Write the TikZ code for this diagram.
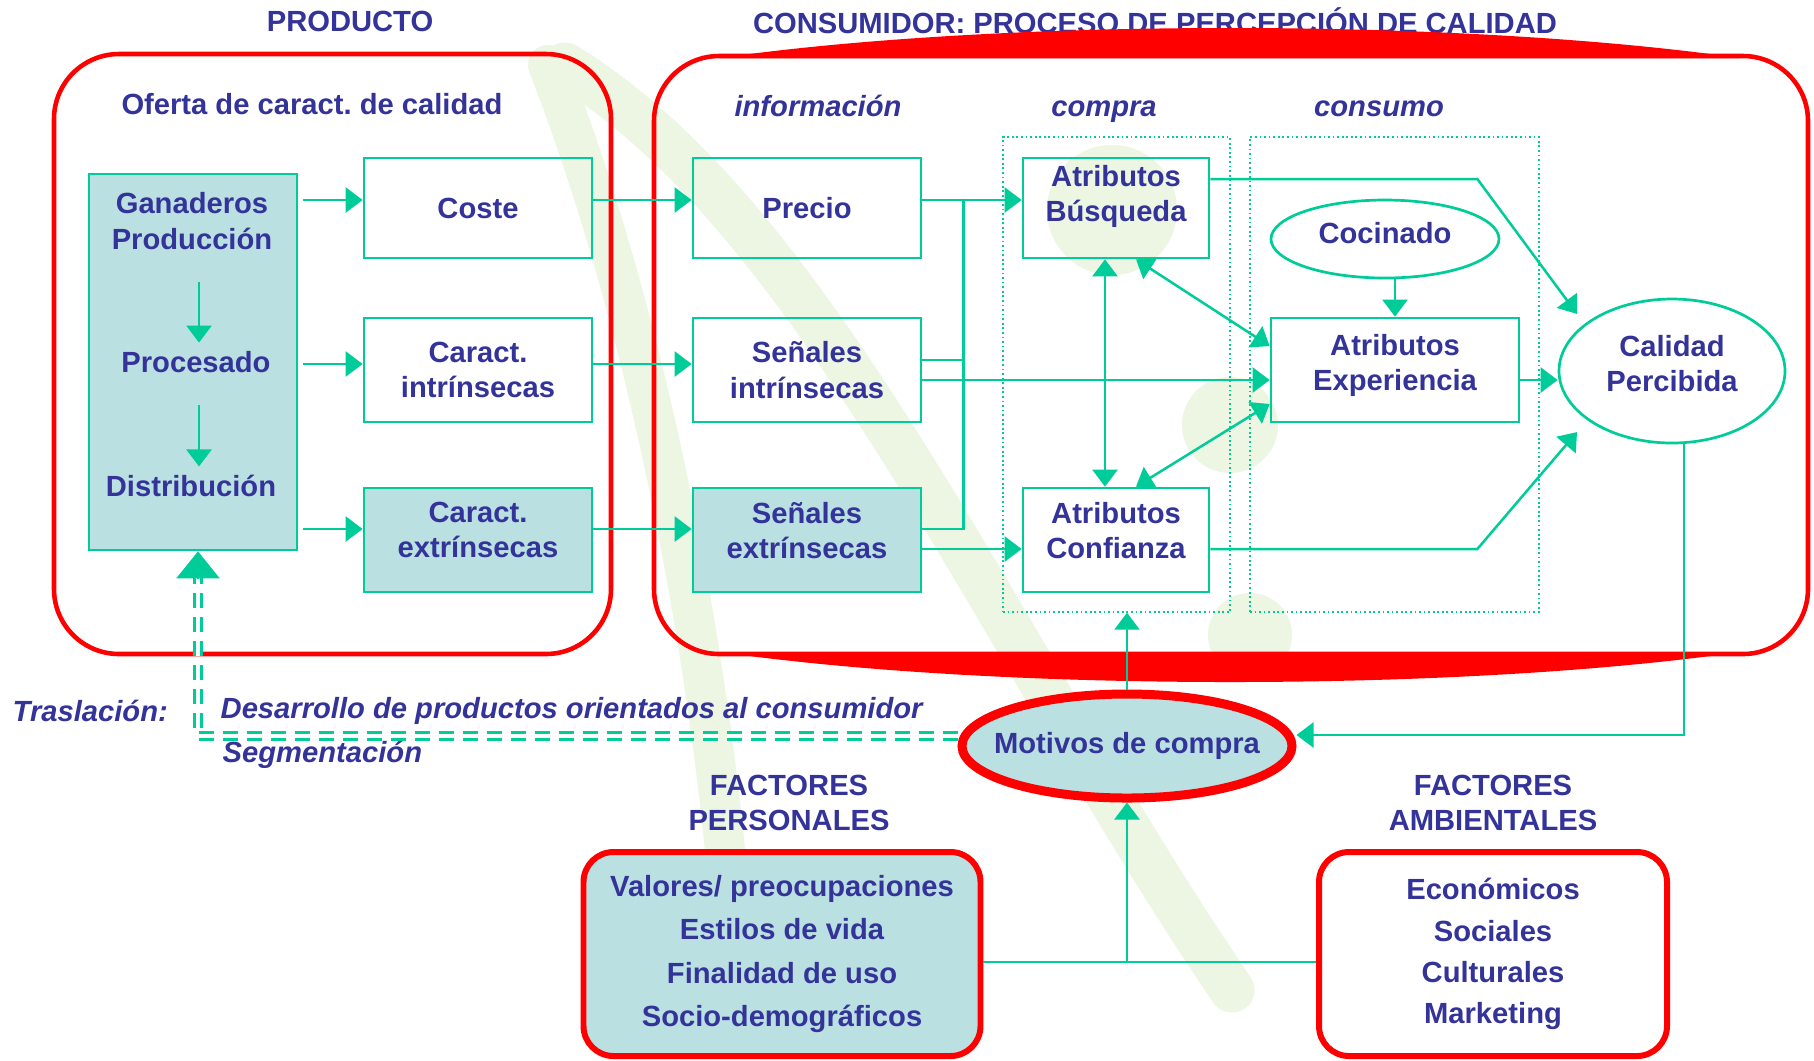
\documentclass[tikz,border=0pt]{standalone}
\usepackage{fontspec}
\setmainfont{Liberation Sans}
\usetikzlibrary{arrows.meta,calc,shapes.geometric}
\definecolor{ink}{RGB}{51,51,153}
\definecolor{grn}{RGB}{0,204,153}
\definecolor{pale}{RGB}{186,224,226}
\definecolor{wmark}{RGB}{236,246,226}
\begin{document}
\begin{tikzpicture}[x=0.1mm, y=-0.1mm,
    font=\fontsize{8.3}{10}\selectfont\bfseries\frenchspacing, text=ink,
    txt/.style={inner sep=0pt, align=center},
    head/.style={txt, font=\fontsize{8.3}{10}\selectfont\bfseries\itshape},
    lift/.style={text depth=#1},
    box/.style={draw=grn, line width=0.27mm, minimum width=22.8mm, minimum height=10.4mm, inner sep=0pt, align=center},
    tint/.style={fill=pale},
    ovalbox/.style={ellipse, draw=grn, line width=0.27mm, inner sep=0pt, align=center},
    stage/.style={draw=grn, line width=0.4pt, dash pattern=on 0.5pt off 0.8pt},
    redframe/.style={draw=red, line width=1.3pt, rounded corners=6.5mm},
    factor/.style={draw=red, line width=1.7pt, rounded corners=3mm, inner sep=0pt, align=center},
    ln/.style={draw=grn, line width=0.25mm},
    arr/.style={ln, -{Triangle[length=1.7mm, width=2.5mm]}},
    twoway/.style={ln, {Triangle[length=1.7mm, width=2.5mm]}-{Triangle[length=1.7mm, width=2.5mm]}},
    trans/.style={draw=grn, line width=0.3mm, double=white, double distance=0.4mm, dash pattern=on 1.5mm off 0.9mm}]
  \fill[white] (0,0) rectangle (1814,1060);
  \useasboundingbox (0,0) rectangle (1814,1060);
  % faint logo in the background
  \begin{scope}[color=wmark, line cap=round]
    \draw[line width=4mm] (548,65) .. controls (640,300) and (700,600) .. (725,850);
    \draw[line width=4.5mm] (565,65) .. controls (820,220) and (1000,650) .. (1232,990);
    \foreach \cx/\cy/\r in {1112/210/6.5, 1230/425/4.8, 1250/635/4.2}
      \fill (\cx,\cy) circle[radius=\r mm];
  \end{scope}
  \node[txt] (tprod) at (350,21) {PRODUCTO};
  \node[txt] (tcons) at (1155,21) {CONSUMIDOR: PROCESO DE PERCEPCIÓN DE CALIDAD};
  \node[redframe, minimum width=55.7mm, minimum height=60mm] (prod) at (332.5,354) {};
  \node[redframe, minimum width=115.4mm, minimum height=59.8mm] (cons) at (1231,355) {};
  \fill[red] (720,58) .. controls (1000,18) and (1460,18) .. (1740,58) -- cycle;
  \fill[red] (720,652) .. controls (1000,692) and (1460,692) .. (1740,652) -- cycle;
  % column headings
  \node[txt] (oferta) at (312,104) {Oferta de caract. de calidad};
  \node[head, anchor=base] (hinfo) at (818,116) {información};
  \node[head, anchor=base] (hcompra) at (1104,116) {compra};
  \node[head, anchor=base] (hconsumo) at (1379,116) {consumo};
  \node[stage, minimum width=22.7mm, minimum height=47.5mm] (scompra) at (1116.5,374.5) {};
  \node[stage, minimum width=28.9mm, minimum height=47.5mm] (sconsumo) at (1394.5,374.5) {};
  % producto
  \node[box, tint, minimum width=20.8mm, minimum height=37.6mm] (gan) at (193,362) {};
  \node[txt] (ganT) at (192,221) {Ganaderos\\Producción};
  \node[txt] (proc) at (196,362) {Procesado};
  \node[txt] (dist) at (191,486) {Distribución};
  \node[box, minimum height=10mm] (coste) at (478,208) {Coste};
  \node[box] (cint) at (478,370) {Caract.\\intrínsecas};
  \node[box, tint, lift=2mm] (cext) at (478,540) {Caract.\\extrínsecas};
  % consumidor
  \node[box, minimum height=10mm] (precio) at (807,208) {Precio};
  \node[box] (sint) at (807,370) {Señales\\intrínsecas};
  \node[box, tint, lift=2mm] (sext) at (807,540) {Señales\\extrínsecas};
  \node[box, minimum width=18.6mm, minimum height=10mm, lift=2.9mm] (busq) at (1116,208) {Atributos\\Búsqueda};
  \node[box, minimum width=18.6mm, lift=2mm] (conf) at (1116,540) {Atributos\\Confianza};
  \node[ovalbox, minimum width=22.8mm, minimum height=7.8mm, lift=1.2mm] (cocin) at (1385,239) {Cocinado};
  \node[box, minimum width=24.8mm, lift=1.6mm] (exper) at (1395,370) {Atributos\\Experiencia};
  \node[ovalbox, minimum width=22.6mm, minimum height=14.4mm, lift=1.6mm] (calid) at (1672,371) {Calidad\\Percibida};
  \node[ovalbox, draw=red, line width=0.9mm, fill=pale, inner xsep=-1.8mm, minimum width=33mm, minimum height=10.4mm] (motiv) at (1127,746) {Motivos de compra};
  % factores
  \node[txt] (fpers) at (789,803) {FACTORES\\PERSONALES};
  \node[txt] (famb) at (1493,803) {FACTORES\\AMBIENTALES};
  \node[factor, fill=pale, minimum width=39.7mm, minimum height=20.4mm] (pers) at (782,954)
    {Valores/ preocupaciones\\[2.3pt] Estilos de vida\\[2.3pt] Finalidad de uso\\[2.3pt] Socio-demográficos};
  \node[factor, minimum width=34.8mm, minimum height=20.4mm] (amb) at (1493,954)
    {Económicos\\[1.7pt] Sociales\\[1.7pt] Culturales\\[1.7pt] Marketing};
  \node[head, anchor=west] (trasl) at (12,711) {Traslación:};
  \node[head, anchor=west] (desar) at (220,711) {Desarrollo de productos orientados al consumidor};
  \node[head, anchor=west] (segm) at (222,755) {Segmentación};
  % connectors
  \draw[arr, shorten <=3.2mm, shorten >=0.8mm] ($(ganT.south -| gan.center)+(6,0)$) -- ($(proc.north -| gan.center)+(6,0)$);
  \draw[arr, shorten <=3.2mm, shorten >=0.8mm] ($(proc.south -| gan.center)+(6,0)$) -- ($(dist.north -| gan.center)+(6,0)$);
  \draw[arr] ($(gan.east |- coste.west)+(5,-8)$) -- ($(coste.west)+(0,-8)$);
  \draw[arr] ($(gan.east |- cint.west)+(5,-6)$) -- ($(cint.west)+(0,-6)$);
  \draw[arr] ($(gan.east |- cext.west)+(5,-11)$) -- ($(cext.west)+(0,-11)$);
  \draw[arr] ($(coste.east)+(0,-8)$) -- ($(precio.west)+(0,-8)$);
  \draw[arr] ($(cint.east)+(0,-6)$) -- ($(sint.west)+(0,-6)$);
  \draw[arr] ($(cext.east)+(0,-11)$) -- ($(sext.west)+(0,-11)$);
  \draw[arr] ($(precio.east)+(0,-8)$) -- ($(busq.west)+(0,-8)$);
  \draw[ln] ($(sint.east)+(0,-10)$) -- ++(41,0);
  \draw[ln] ($(sext.east)+(0,-11)$) -| ($(precio.east)+(41,-8)$);
  \draw[arr] ($(sint.east)+(0,10)$) -- ($(exper.west)+(0,10)$);
  \draw[arr] ($(sext.east)+(0,9)$) -- ($(conf.west)+(0,9)$);
  \draw[twoway] ($(busq.south)+(-11,0)$) -- ($(conf.north)+(-11,0)$);
  \draw[twoway] ($(busq.south)+(20,0)$) -- ($(exper.west)+(0,-24)$);
  \draw[twoway] ($(conf.north)+(20,0)$) -- ($(exper.west)+(0,34)$);
  \draw[arr] (exper.north |- cocin.south) -- (exper.north);
  \draw[arr] ($(busq.east)+(0,-29)$) -- ++(267,0) -- ($(calid.150)+(-10,-8)$);
  \draw[arr] ($(conf.east)+(0,9)$) -- ++(267,0) -- ($(calid.210)+(-10,12)$);
  \draw[arr] ($(exper.east)+(0,10)$) -- ($(calid.west)+(0,9)$);
  \draw[arr] ($(calid.south)+(12,0)$) |- ($(motiv.east)+(0,-11)$);
  \draw[arr] (motiv.north) -- (motiv.north |- scompra.south);
  \coordinate (fjoin) at ($(pers.east)+(0,8)$);
  \draw[ln] (fjoin) -- (fjoin -| amb.west);
  \draw[arr] (fjoin -| motiv.south) -- (motiv.south);
  \draw[trans] ($(motiv.west)+(0,-10)$) -| ($(gan.south)+(5,27)$);
  \draw[ln, -{Triangle[length=2.7mm, width=4.3mm]}] ($(gan.south)+(5,28)$) -- ($(gan.south)+(5,0)$);
\end{tikzpicture}
\end{document}
